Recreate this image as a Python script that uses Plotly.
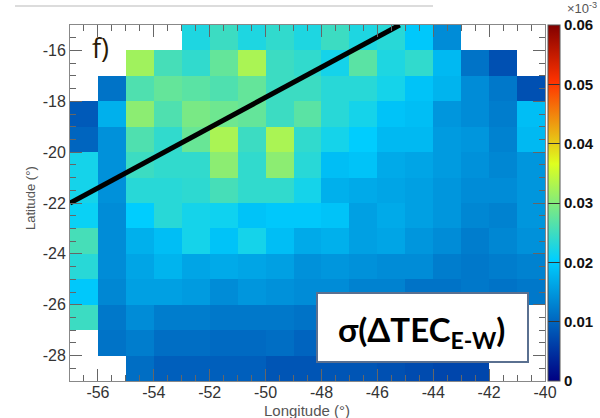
import plotly.graph_objects as go

N = None
# Cell centres (degrees)
lon_centers = [-56.5 + i for i in range(17)]
lat_centers = [-15.5 - j for j in range(14)]

# sigma(dTEC E-W) per cell, rows from north (-15.5) to south (-28.5)
sigma_tec = [
    [N, N, N, N, 0.0226, 0.0248, 0.0226, 0.0240, 0.0226, 0.0248, 0.0226, 0.0233, 0.0197, 0.0138, N, N, N],
    [N, N, 0.0321, 0.0255, 0.0240, 0.0277, 0.0328, 0.0248, 0.0240, 0.0219, 0.0270, 0.0226, 0.0240, 0.0182, 0.0113, 0.0079, N],
    [N, 0.0113, 0.0262, 0.0277, 0.0270, 0.0262, 0.0277, 0.0248, 0.0248, 0.0233, 0.0233, 0.0219, 0.0192, 0.0177, 0.0138, 0.0118, 0.0079],
    [0.0089, 0.0173, 0.0306, 0.0262, 0.0292, 0.0284, 0.0277, 0.0248, 0.0270, 0.0233, 0.0219, 0.0192, 0.0187, 0.0148, 0.0138, 0.0123, 0.0187],
    [0.0100, 0.0143, 0.0262, 0.0240, 0.0280, 0.0328, 0.0248, 0.0328, 0.0240, 0.0219, 0.0202, 0.0182, 0.0182, 0.0153, 0.0148, 0.0128, 0.0182],
    [0.0219, 0.0143, 0.0248, 0.0240, 0.0240, 0.0306, 0.0240, 0.0306, 0.0233, 0.0187, 0.0192, 0.0168, 0.0163, 0.0153, 0.0143, 0.0133, 0.0148],
    [0.0219, 0.0143, 0.0233, 0.0233, 0.0237, 0.0255, 0.0240, 0.0240, 0.0219, 0.0173, 0.0168, 0.0163, 0.0158, 0.0148, 0.0138, 0.0138, 0.0148],
    [0.0211, 0.0138, 0.0202, 0.0233, 0.0219, 0.0215, 0.0192, 0.0197, 0.0197, 0.0192, 0.0158, 0.0168, 0.0158, 0.0148, 0.0133, 0.0128, 0.0148],
    [0.0255, 0.0138, 0.0173, 0.0187, 0.0219, 0.0192, 0.0219, 0.0187, 0.0168, 0.0173, 0.0158, 0.0163, 0.0148, 0.0138, 0.0123, 0.0133, 0.0143],
    [0.0233, 0.0138, 0.0163, 0.0177, 0.0163, 0.0168, 0.0163, 0.0158, 0.0143, 0.0148, 0.0143, 0.0138, 0.0138, 0.0123, 0.0118, 0.0123, 0.0128],
    [0.0197, 0.0133, 0.0158, 0.0158, 0.0153, 0.0138, 0.0148, 0.0143, 0.0138, 0.0138, 0.0128, 0.0128, 0.0113, 0.0113, 0.0118, 0.0113, 0.0118],
    [0.0248, 0.0118, 0.0138, 0.0123, 0.0123, 0.0118, 0.0118, 0.0118, 0.0113, 0.0110, 0.0108, 0.0105, 0.0100, 0.0100, 0.0100, 0.0105, N],
    [N, 0.0113, 0.0123, 0.0108, 0.0108, 0.0104, 0.0104, 0.0108, 0.0099, 0.0095, 0.0092, 0.0090, 0.0088, 0.0085, 0.0085, 0.0090, N],
    [N, N, 0.0108, 0.0094, 0.0094, 0.0094, 0.0094, 0.0084, 0.0084, 0.0084, 0.0084, 0.0079, 0.0074, 0.0069, 0.0069, N, N],
]

# Black line endpoints (lon, lat)
line_lon = [-57.0, -45.2]
line_lat = [-22.0, -15.0]

cbar_vals = [0, 0.01, 0.02, 0.03, 0.04, 0.05, 0.06]
cbar_text = ["0", "0.01", "0.02", "0.03", "0.04", "0.05", "0.06"]
x_ticks = [-56, -54, -52, -50, -48, -46, -44, -42, -40]
x_tick_text = ["-56", "-54", "-52", "-50", "-48", "-46", "-44", "-42", "-40"]
y_ticks = [-28, -26, -24, -22, -20, -18, -16]
y_tick_text = ["-28", "-26", "-24", "-22", "-20", "-18", "-16"]

rainbow = [
    [0.0, "rgb(0,0,130)"],
    [0.34, "rgb(0,207,255)"],
    [0.61, "rgb(222,255,31)"],
    [0.84, "rgb(255,51,0)"],
    [1.0, "rgb(130,0,0)"],
]

fig = go.Figure()
fig.add_trace(go.Heatmap(
    x=lon_centers, y=lat_centers, z=sigma_tec,
    zmin=0, zmax=0.06, colorscale=rainbow, hoverongaps=False,
    colorbar=dict(
        x=1.006, xanchor="left", y=0.5, yanchor="middle", len=1.0, lenmode="fraction",
        thickness=12, outlinecolor="#555", outlinewidth=1,
        tickvals=cbar_vals, ticktext=cbar_text, ticks="inside", ticklen=12,
        tickcolor="#333", tickwidth=1, ypad=0, xpad=0,
        tickfont=dict(family="Liberation Sans", size=15, color="#111", weight="bold"),
    ),
))
fig.add_trace(go.Scatter(
    x=line_lon, y=line_lat, mode="lines",
    line=dict(color="black", width=5), showlegend=False, cliponaxis=True,
))

axis_common = dict(
    showgrid=False, zeroline=False, showline=True, linecolor="#888", linewidth=1,
    mirror="allticks", ticks="inside", ticklen=12, tickcolor="#666", tickwidth=1,
    tickfont=dict(family="Liberation Sans", size=16, color="#333"),
)
fig.update_xaxes(range=[-57, -40], tickvals=x_ticks, ticktext=x_tick_text, ticklabelstandoff=-3,
                 minor=dict(dtick=0.5, tick0=-56, ticks="inside", ticklen=6, tickcolor="#666"),
                 **axis_common)
fig.update_yaxes(range=[-29, -15], tickvals=y_ticks, ticktext=y_tick_text,
                 minor=dict(dtick=0.5, tick0=-28, ticks="inside", ticklen=6, tickcolor="#666"),
                 **axis_common)

W, H = 600, 418
L, R, T, B = 70, 55, 25, 37
pw, ph = W - L - R, H - T - B

def px(xp):
    return (xp - L) / pw

def py(yp):
    return (H - B - yp) / ph

def note(text, x, y, font, **kw):
    return dict(text=text, xref="paper", yref="paper", x=px(x), y=py(y),
                xanchor="center", yanchor="middle", showarrow=False, font=font, **kw)

fig.update_layout(
    width=W, height=H, autosize=False,
    margin=dict(l=L, r=R, t=T, b=B, autoexpand=False),
    paper_bgcolor="white", plot_bgcolor="white",
    showlegend=False,
    shapes=[
        dict(type="line", xref="paper", yref="paper", x0=px(15), x1=px(433), y0=py(6), y1=py(6),
             line=dict(color="#d0d0d0", width=1.5)),
        dict(type="rect", xref="paper", yref="paper", x0=px(317), x1=px(528), y0=py(362), y1=py(293),
             fillcolor="white", line=dict(color="#5a7090", width=2), layer="above"),
    ],
    annotations=[
        note("σ(ΔTEC<sub>E-W</sub>)", 421, 331, dict(family="Lato", size=33, color="black", weight="bold")),
        note("f)", 100, 47, dict(family="Open Sans", size=27, color="#2a1a05")),
        note("Longitude (°)", 307, 410, dict(family="Liberation Sans", size=15, color="#555")),
        note("Latitude (°)", 30, 198, dict(family="Liberation Sans", size=13, color="#555"), textangle=-90),
        note("×10<sup>-3</sup>", 582, 8, dict(family="Liberation Sans", size=13, color="#555")),
    ],
)

fig.write_html("out.html", config={"displayModeBar": False},
               post_script="document.body.style.margin='0';document.body.style.padding='0';document.body.style.overflow='hidden';")
